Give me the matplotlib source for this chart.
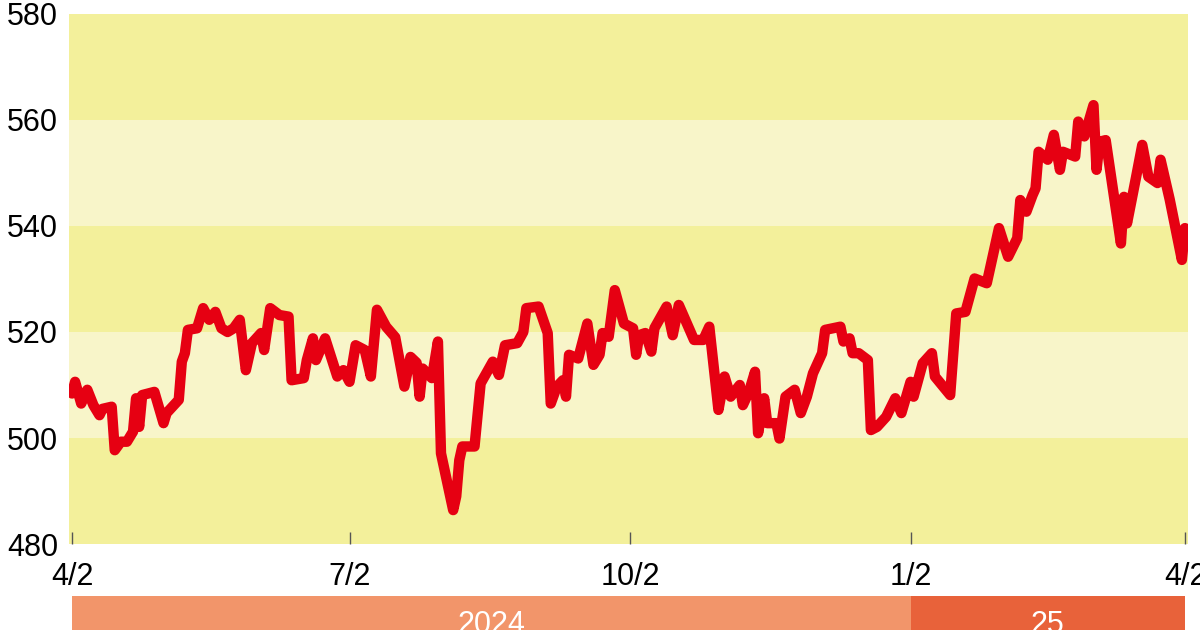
import matplotlib
matplotlib.use("Agg")
import matplotlib.pyplot as plt
import matplotlib.dates as mdates
import matplotlib.transforms as mtransforms
import pandas as pd

plt.rcParams['font.family'] = ['Liberation Sans', 'DejaVu Sans']

# price series (2024/4/2 - 2025/4/2)
dates = [
    "2024-04-02", "2024-04-03", "2024-04-05", "2024-04-07", "2024-04-09", "2024-04-11",
    "2024-04-12", "2024-04-15", "2024-04-16", "2024-04-18", "2024-04-20", "2024-04-22",
    "2024-04-23", "2024-04-24", "2024-04-25", "2024-04-29", "2024-05-02", "2024-05-03",
    "2024-05-07", "2024-05-08", "2024-05-09", "2024-05-10", "2024-05-13", "2024-05-15",
    "2024-05-17", "2024-05-19", "2024-05-21", "2024-05-23", "2024-05-25", "2024-05-27",
    "2024-05-29", "2024-05-31", "2024-06-03", "2024-06-04", "2024-06-06", "2024-06-09",
    "2024-06-12", "2024-06-13", "2024-06-17", "2024-06-18", "2024-06-20", "2024-06-21",
    "2024-06-24", "2024-06-28", "2024-06-30", "2024-07-02", "2024-07-04", "2024-07-07",
    "2024-07-09", "2024-07-11", "2024-07-14", "2024-07-17", "2024-07-20", "2024-07-22",
    "2024-07-24", "2024-07-25", "2024-07-26", "2024-07-29", "2024-07-31", "2024-08-01",
    "2024-08-05", "2024-08-06", "2024-08-07", "2024-08-08", "2024-08-12", "2024-08-14",
    "2024-08-18", "2024-08-20", "2024-08-22", "2024-08-26", "2024-08-28", "2024-08-29",
    "2024-09-02", "2024-09-05", "2024-09-06", "2024-09-08", "2024-09-10", "2024-09-11",
    "2024-09-12", "2024-09-15", "2024-09-16", "2024-09-18", "2024-09-20", "2024-09-22",
    "2024-09-23", "2024-09-25", "2024-09-27", "2024-09-30", "2024-10-03", "2024-10-04",
    "2024-10-05", "2024-10-07", "2024-10-09", "2024-10-10", "2024-10-14", "2024-10-16",
    "2024-10-18", "2024-10-23", "2024-10-26", "2024-10-28", "2024-10-31", "2024-11-02",
    "2024-11-04", "2024-11-07", "2024-11-08", "2024-11-10", "2024-11-12", "2024-11-13",
    "2024-11-15", "2024-11-16", "2024-11-19", "2024-11-20", "2024-11-22", "2024-11-25",
    "2024-11-27", "2024-11-29", "2024-12-01", "2024-12-04", "2024-12-05", "2024-12-10",
    "2024-12-11", "2024-12-13", "2024-12-14", "2024-12-16", "2024-12-19", "2024-12-20",
    "2024-12-22", "2024-12-25", "2024-12-28", "2024-12-30", "2025-01-02", "2025-01-03",
    "2025-01-06", "2025-01-09", "2025-01-10", "2025-01-15", "2025-01-17", "2025-01-20",
    "2025-01-23", "2025-01-27", "2025-01-31", "2025-02-03", "2025-02-06", "2025-02-07",
    "2025-02-09", "2025-02-11", "2025-02-12", "2025-02-13", "2025-02-16", "2025-02-18",
    "2025-02-20", "2025-02-21", "2025-02-25", "2025-02-26", "2025-02-28", "2025-03-03",
    "2025-03-04", "2025-03-05", "2025-03-07", "2025-03-12", "2025-03-13", "2025-03-14",
    "2025-03-17", "2025-03-19", "2025-03-21", "2025-03-24", "2025-03-25", "2025-03-28",
    "2025-04-01", "2025-04-02",
]
values = [
    508.4, 510.6, 506.5, 509.1, 506.2, 504.3,
    505.5, 505.9, 497.7, 499.3, 499.3, 501.2,
    507.5, 502.1, 508.1, 508.7, 502.8, 504.7,
    507.2, 514.4, 516.0, 520.4, 520.7, 524.5,
    522.3, 523.8, 520.7, 520.0, 520.7, 522.3,
    512.8, 517.9, 519.8, 516.6, 524.5, 523.2,
    522.9, 510.9, 511.3, 514.7, 518.8, 514.7,
    518.8, 511.6, 512.8, 510.6, 517.5, 516.6,
    511.6, 524.2, 521.0, 519.0, 509.7, 515.3,
    514.2, 507.8, 513.1, 511.3, 518.2, 497.1,
    486.4, 489.0, 495.8, 498.4, 498.4, 510.3,
    514.4, 511.9, 517.5, 517.9, 520.0, 524.5,
    524.8, 519.8, 506.5, 509.7, 510.9, 507.8,
    515.7, 515.0, 517.2, 521.6, 513.8, 515.7,
    519.8, 519.1, 527.9, 521.6, 520.7, 515.7,
    519.4, 519.8, 516.3, 520.7, 524.8, 519.4,
    525.1, 518.5, 518.5, 521.0, 505.3, 511.6,
    507.8, 510.0, 506.2, 508.7, 512.5, 500.9,
    507.5, 502.8, 502.8, 499.9, 507.8, 509.1,
    504.7, 507.8, 512.2, 516.0, 520.4, 521.0,
    518.2, 518.8, 516.0, 516.0, 514.7, 501.5,
    502.1, 504.0, 507.5, 504.7, 510.6, 507.8,
    514.1, 516.0, 511.6, 508.1, 523.5, 523.8,
    530.1, 529.2, 539.6, 534.2, 537.7, 544.9,
    542.7, 545.8, 547.1, 554.0, 552.5, 557.2,
    550.6, 554.0, 553.1, 559.7, 556.9, 562.8,
    550.6, 555.9, 556.2, 536.7, 545.5, 540.5,
    549.3, 555.3, 549.3, 548.1, 552.5, 545.0,
    533.6, 539.6,
]

y_ticks = [480, 500, 520, 540, 560, 580]
x_ticks = ["2024-04-02", "2024-07-02", "2024-10-02", "2025-01-02", "2025-04-02"]
x_tick_labels = ["4/2", "7/2", "10/2", "1/2", "4/2"]

year_starts = ["2024-04-02", "2025-01-02"]
year_ends = ["2025-01-02", "2025-04-02"]
year_labels = ["2024", "25"]
year_colors = ["#F2956A", "#E8623A"]

band_dark = "#F3F09B"
band_light = "#F8F5C9"
line_color = "#E60012"

x = pd.to_datetime(dates)

fig = plt.figure(figsize=(12, 6.3), dpi=100)
ax = fig.add_axes([0.0575, 0.1365, 0.9325, 0.8413])

# alternating horizontal bands
for k in range(len(y_ticks) - 1):
    ax.axhspan(y_ticks[k], y_ticks[k + 1], color=band_dark if k % 2 == 0 else band_light,
               lw=0, zorder=0)

ax.plot(x, values, color=line_color, lw=7.5, solid_joinstyle='round',
        solid_capstyle='round', zorder=3)

ax.set_ylim(480, 580)
ax.set_xlim(pd.Timestamp("2024-04-01"), pd.Timestamp("2025-04-03"))
ax.set_yticks(y_ticks)
ax.set_yticklabels([str(v) for v in y_ticks], fontsize=22)
ax.tick_params(axis='y', length=0, pad=8)
ax.set_xticks(pd.to_datetime(x_ticks))
ax.set_xticklabels(x_tick_labels, fontsize=22)
ax.tick_params(axis='x', direction='in', length=9, width=1, color='#555555', pad=13)
for s in ax.spines.values():
    s.set_visible(False)

# year bars under the axis
trans = mtransforms.blended_transform_factory(ax.transData, ax.transAxes)
for s0, s1, lab, col in zip(year_starts, year_ends, year_labels, year_colors):
    t0 = mdates.date2num(pd.Timestamp(s0))
    t1 = mdates.date2num(pd.Timestamp(s1))
    ax.add_patch(plt.Rectangle((t0, -0.25), t1 - t0, 0.152, transform=trans,
                               color=col, lw=0, clip_on=False))
    ax.text((t0 + t1) / 2, -0.168, lab, transform=trans, ha='center', va='baseline',
            color='white', fontsize=22, clip_on=False)

fig.savefig("out.png", dpi=100)
